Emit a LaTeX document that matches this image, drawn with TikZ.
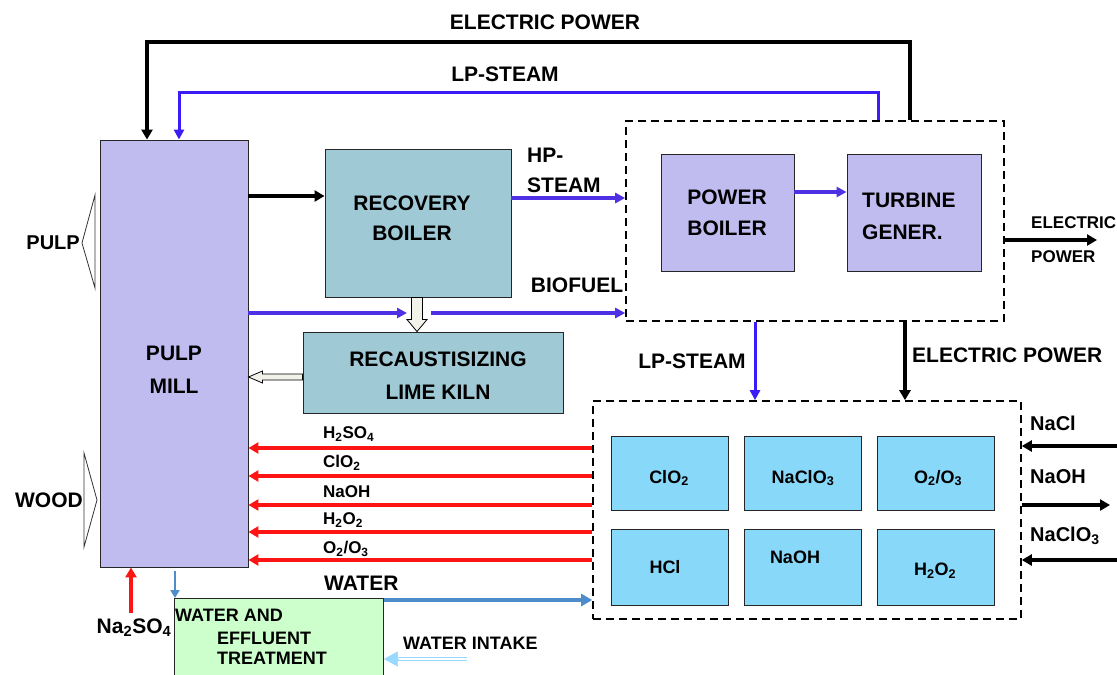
\documentclass[tikz,border=0pt]{standalone}
\usepackage{fontspec}
\setmainfont{Liberation Sans}
\usetikzlibrary{arrows.meta,calc}
\definecolor{lav}{HTML}{C1BCF0}
\definecolor{rbcol}{HTML}{A0C9D6}
\definecolor{chemblue}{HTML}{88D8FA}
\definecolor{wtgreen}{HTML}{CCFFCC}
\definecolor{steamblue}{HTML}{4F30E4}
\definecolor{lpblue}{HTML}{3C1CF6}
\definecolor{wblue}{HTML}{4F8CCB}
\definecolor{intakeblue}{HTML}{99D8FF}
\definecolor{hred}{HTML}{FF1414}
\definecolor{hollowfill}{HTML}{F2F2EA}
\begin{document}
\begin{tikzpicture}[x=1pt,y=-1pt,
  every node/.style={font=\bfseries\fontsize{21}{25}\selectfont, inner sep=0pt},
  box/.style={draw=black!85, line width=0.9pt},
  dashbox/.style={draw=black, line width=1.6pt, dash pattern=on 8pt off 5pt},
  small/.style={font=\bfseries\fontsize{17}{20}\selectfont},
  mid/.style={font=\bfseries\fontsize{18}{21}\selectfont},
  blkarrow/.style={draw=black, line width=3.5pt, -{Triangle[length=10pt,width=11pt]}},
  bluearrow/.style={draw=steamblue, line width=3.5pt, -{Triangle[length=10pt,width=10pt]}},
  lparrow/.style={draw=lpblue, line width=3pt, -{Triangle[length=10pt,width=10pt]}},
  redarrow/.style={draw=hred, line width=3.8pt, -{Triangle[length=10pt,width=11pt]}},
  waterarrow/.style={draw=wblue, line width=4.5pt, -{Triangle[length=11pt,width=12pt]}},
  thinblue/.style={draw=wblue, line width=2pt, -{Triangle[length=8pt,width=9pt]}},
  hollow/.style={draw=black, line width=0.8pt, fill=hollowfill},
  opentri/.style={draw=black!80, line width=0.8pt, fill=white}]
\useasboundingbox (0,0) rectangle (1117,675);
\clip (0,0) rectangle (1117,675);
\fill[white] (0,0) rectangle (1117,675);

% ---- main blocks
\node[box, fill=lav, minimum width=148pt, minimum height=427pt] (pm) at (174,353.5) {};
\node (pmt1) at (174,353) {PULP};
\node (pmt2) at (174,386) {MILL};

\node[box, fill=rbcol, minimum width=186pt, minimum height=148pt] (rb) at (418,223) {};
\node (rbt1) at (412,203) {RECOVERY};
\node (rbt2) at (412,233) {BOILER};

\node[box, fill=rbcol, minimum width=260pt, minimum height=81pt] (lk) at (433,372.5) {};
\node (lkt1) at (438,359) {RECAUSTISIZING};
\node (lkt2) at (438,392) {LIME KILN};

\node[dashbox, minimum width=378pt, minimum height=200pt] (pbox) at (815,221) {};
\node[box, fill=lav, minimum width=133pt, minimum height=117pt] (pb) at (727.5,212.5) {};
\node (pbt1) at (727,197) {POWER};
\node (pbt2) at (727,228) {BOILER};
\node[box, fill=lav, minimum width=134pt, minimum height=117pt] (tg) at (914,212.5) {};
\node[anchor=west] (tgt1) at (862,200) {TURBINE};
\node[anchor=west] (tgt2) at (862,232) {GENER.};

\node[dashbox, minimum width=428pt, minimum height=218pt] (chem) at (807,510) {};
\node[box, fill=chemblue, minimum width=117pt, minimum height=74pt] (c11) at (670,473) {};
\node[box, fill=chemblue, minimum width=117pt, minimum height=74pt] (c12) at (802.5,473) {};
\node[box, fill=chemblue, minimum width=117pt, minimum height=74pt] (c13) at (935.5,473) {};
\node[box, fill=chemblue, minimum width=117pt, minimum height=76pt] (c21) at (670,567) {};
\node[box, fill=chemblue, minimum width=117pt, minimum height=76pt] (c22) at (802.5,567) {};
\node[box, fill=chemblue, minimum width=117pt, minimum height=76pt] (c23) at (935.5,567) {};
\node[mid] (c11t) at (669,478) {ClO\textsubscript{2}};
\node[mid] (c12t) at (803,478) {NaClO\textsubscript{3}};
\node[mid] (c13t) at (938,478) {O\textsubscript{2}/O\textsubscript{3}};
\node[mid] (c21t) at (665,567) {HCl};
\node[mid] (c22t) at (795,557) {NaOH};
\node[mid] (c23t) at (935,571) {H\textsubscript{2}O\textsubscript{2}};

\node[box, fill=wtgreen, minimum width=209pt, minimum height=84pt, anchor=north west] (wt) at (174,598) {};
\node[mid, anchor=west] (wtt1) at (175,615) {WATER AND};
\node[mid, anchor=west] (wtt2) at (217,638) {EFFLUENT};
\node[mid, anchor=west] (wtt3) at (217,658) {TREATMENT};

% ---- input triangles
\draw[opentri] (95,195) -- (82,243) -- (95,288) -- cycle;
\node[font=\bfseries\fontsize{20}{24}\selectfont, anchor=east] (pulpin) at (80,243) {PULP};
\draw[opentri] (84,453) -- (97,500) -- (84,547) -- cycle;
\node[anchor=east] (woodin) at (83,500) {WOOD};

% ---- top loops
\coordinate (e1) at (910,42);
\coordinate (e2) at (147,42);
\draw[blkarrow] (pbox.north -| e1) -- (e1) -- (e2) -- (pm.north -| e2);
\node (eptop) at (545,22) {ELECTRIC POWER};
\coordinate (l1) at (878,92);
\coordinate (l2) at (179,92);
\draw[lparrow] (pbox.north -| l1) -- (l1) -- (l2) -- (pm.north -| l2);
\node (lptop) at (505,74) {LP-STEAM};

% ---- horizontal flows
\coordinate (yc) at (0,196);
\draw[blkarrow] (pm.east |- yc) -- (rb.west |- yc);
\coordinate (yh) at (0,198);
\draw[bluearrow] (rb.east |- yh) -- (pbox.west |- yh);
\node[anchor=west] (hp1) at (527,155) {HP-};
\node[anchor=west] (hp2) at (527,185) {STEAM};
\coordinate (yp) at (0,192);
\draw[bluearrow] (pb.east |- yp) -- (tg.west |- yp);
\coordinate (bf1) at (407,313);
\coordinate (bf2) at (431,313);
\draw[bluearrow] (pm.east |- bf1) -- (bf1);
\draw[bluearrow] (bf2) -- (pbox.west |- bf2);
\node (biof) at (577,285) {BIOFUEL};

\coordinate (eo) at (1097,240);
\draw[blkarrow] (pbox.east |- eo) -- (eo);
\node[small, anchor=west] (eo1) at (1031,223) {ELECTRIC};
\node[small, anchor=west] (eo2) at (1031,257) {POWER};

% ---- hollow arrows
\coordinate (ha) at (417,0);
\coordinate (hT) at (rb.south -| ha);
\coordinate (hB) at (lk.north -| ha);
\draw[hollow] ($(hT)+(-5.5,0)$) -- ($(hT)+(5.5,0)$) -- ($(hB)+(5.5,-12)$) -- ($(hB)+(10,-12)$) -- (hB) -- ($(hB)+(-10,-12)$) -- ($(hB)+(-5.5,-12)$) -- cycle;
\coordinate (hb) at (0,377);
\coordinate (hS) at (lk.west |- hb);
\coordinate (hE) at (pm.east |- hb);
\draw[hollow] ($(hS)+(0,-3)$) -- ($(hS)+(0,3)$) -- ($(hE)+(14,3)$) -- ($(hE)+(14,6)$) -- (hE) -- ($(hE)+(14,-6)$) -- ($(hE)+(14,-3)$) -- cycle;

% ---- down flows to chemicals
\coordinate (xl) at (755,0);
\draw[lparrow] (pbox.south -| xl) -- (chem.north -| xl);
\node (lpmid) at (692,361) {LP-STEAM};
\coordinate (xe) at (905,0);
\draw[blkarrow] (pbox.south -| xe) -- (chem.north -| xe);
\node[anchor=west] (epmid) at (912,355) {ELECTRIC POWER};

% ---- chemical lines to pulp mill
\coordinate (r1) at (0,448);
\coordinate (r2) at (0,476);
\coordinate (r3) at (0,505);
\coordinate (r4) at (0,532);
\coordinate (r5) at (0,560);
\foreach \r in {r1,r2,r3,r4,r5}{\draw[redarrow] (chem.west |- \r) -- (pm.east |- \r);}
\node[small, anchor=west] (rl1) at (323,434) {H\textsubscript{2}SO\textsubscript{4}};
\node[small, anchor=west] (rl2) at (323,463) {ClO\textsubscript{2}};
\node[small, anchor=west] (rl3) at (323,492) {NaOH};
\node[small, anchor=west] (rl4) at (323,520) {H\textsubscript{2}O\textsubscript{2}};
\node[small, anchor=west] (rl5) at (323,549) {O\textsubscript{2}/O\textsubscript{3}};

% ---- right side chemicals
\coordinate (nc) at (1117,446);
\draw[blkarrow] (nc) -- (chem.east |- nc);
\node[font=\bfseries\fontsize{20}{24}\selectfont, anchor=west] (nclt) at (1030,423) {NaCl};
\coordinate (no) at (1110,505);
\draw[blkarrow] (chem.east |- no) -- (no);
\node[font=\bfseries\fontsize{20}{24}\selectfont, anchor=west] (nolt) at (1030,477) {NaOH};
\coordinate (nl) at (1117,560);
\draw[blkarrow] (nl) -- (chem.east |- nl);
\node[font=\bfseries\fontsize{20}{24}\selectfont, anchor=west] (nllt) at (1030,536) {NaClO\textsubscript{3}};

% ---- bottom flows
\coordinate (na) at (131,613);
\draw[redarrow] (na) -- (pm.south -| na);
\node (natxt) at (134,628) {Na\textsubscript{2}SO\textsubscript{4}};
\coordinate (sb) at (175,0);
\draw[thinblue, shorten <=4pt] (pm.south -| sb) -- (wt.north -| sb);
\coordinate (wl) at (0,600);
\draw[waterarrow] (wt.east |- wl) -- (chem.west |- wl);
\node[anchor=west] (wtxt) at (324,583) {WATER};
\coordinate (wi) at (467,659);
\draw[draw=intakeblue, line width=1.3pt, double=white, double distance=2.2pt] (wi) -- ($(wt.east |- wi)+(12,0)$);
\draw[draw=intakeblue, line width=0.5pt, -{Triangle[length=14pt,width=15pt]}] ($(wt.east |- wi)+(14,0)$) -- (wt.east |- wi);
\node[mid, anchor=west] (witxt) at (403,643) {WATER INTAKE};
\end{tikzpicture}
\end{document}
